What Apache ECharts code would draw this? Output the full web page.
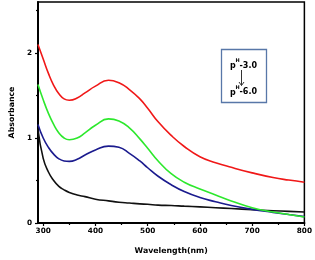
<!DOCTYPE html>
<html><head><meta charset="utf-8">
<script src="https://cdn.jsdelivr.net/npm/echarts@6/dist/echarts.min.js"></script>
<style>html,body{margin:0;padding:0;background:#fff}#c{width:315px;height:260px}</style>
</head><body><div id="c"></div>
<script>
const wavelengths = [290,300,310,320,330,340,350,365,380,400,425,445,465,485,500,520,545,570,600,630,660,700,740,770,800];
const redPH30   = [2.10,1.93,1.76,1.62,1.52,1.46,1.445,1.47,1.53,1.61,1.68,1.65,1.57,1.46,1.35,1.19,1.03,0.90,0.78,0.71,0.655,0.59,0.535,0.505,0.48];
const greenVals = [1.63,1.45,1.29,1.16,1.06,1.00,0.98,1.00,1.06,1.15,1.225,1.20,1.12,0.99,0.88,0.73,0.58,0.48,0.40,0.33,0.26,0.18,0.13,0.10,0.07];
const blueVals  = [1.16,1.00,0.89,0.81,0.755,0.73,0.725,0.75,0.80,0.86,0.905,0.89,0.82,0.73,0.65,0.55,0.45,0.37,0.30,0.25,0.205,0.16,0.125,0.10,0.075];
const blackPH60 = [1.10,0.76,0.60,0.50,0.43,0.39,0.36,0.33,0.31,0.28,0.26,0.245,0.235,0.225,0.22,0.21,0.205,0.198,0.19,0.18,0.17,0.157,0.145,0.137,0.13];
const xTicks = [300,400,500,600,700,800];
const xMinorTicks = [350,450,550,650,750];
const yTicks = [0,1,2];
const yMinorTicks = [0.5,1.5,2.5];
const legendTop = 'p', legendSup = 'H', legendStart = '-3.0', legendEnd = '-6.0';

const pairs = v => wavelengths.map((w,i)=>[w,v[i]]);
const font = 'DejaVu Sans';
const chart = echarts.init(document.getElementById('c'), null, {renderer:'canvas'});
const mkSeries = (vals,color)=>({type:'line',data:pairs(vals),smooth:0.5,showSymbol:false,
  lineStyle:{color,width:1.6},itemStyle:{color},xAxisIndex:0,yAxisIndex:0,animation:false});
chart.setOption({
  animation:false,
  grid:{left:33,right:9,top:2,bottom:35.5,show:true,borderColor:'#000',borderWidth:1.5,backgroundColor:'transparent'},
  xAxis:[{type:'value',min:290,max:800,position:'bottom',
    axisLine:{show:true,onZero:false,lineStyle:{color:'#000',width:2}},
    axisTick:{show:true,customValues:xTicks,length:3,inside:false,lineStyle:{color:'#000',width:1.2}},
    axisLabel:{customValues:xTicks,color:'#000',fontFamily:font,fontWeight:'bold',fontSize:7.3,margin:5},
    splitLine:{show:false},
    name:'Wavelength(nm)',nameLocation:'middle',nameGap:24,
    nameTextStyle:{color:'#000',fontFamily:font,fontWeight:'bold',fontSize:7.8}},
   {type:'value',min:290,max:800,position:'bottom',
    axisLine:{show:false},axisLabel:{show:false},splitLine:{show:false},
    axisTick:{show:true,customValues:xMinorTicks,length:2,lineStyle:{color:'#000',width:1.2}}}],
  yAxis:[{type:'value',min:0,max:2.6,position:'left',
    axisLine:{show:true,onZero:false,lineStyle:{color:'#000',width:2}},
    axisTick:{show:true,customValues:yTicks,length:3,lineStyle:{color:'#000',width:1.2}},
    axisLabel:{customValues:yTicks,color:'#000',fontFamily:font,fontWeight:'bold',fontSize:7.3,margin:6},
    splitLine:{show:false},
    name:'Absorbance',nameLocation:'middle',nameGap:21,
    nameTextStyle:{color:'#000',fontFamily:font,fontWeight:'bold',fontSize:7.8}},
   {type:'value',min:0,max:2.6,position:'left',
    axisLine:{show:false},axisLabel:{show:false},splitLine:{show:false},
    axisTick:{show:true,customValues:yMinorTicks,length:2,lineStyle:{color:'#000',width:1.2}}}],
  series:[mkSeries(blackPH60,'#111111'),mkSeries(blueVals,'#1b1b8e'),mkSeries(greenVals,'#2de82d'),mkSeries(redPH30,'#f01818')],
  graphic:[
    {type:'rect',shape:{x:221.5,y:49.5,width:45,height:53},style:{fill:'#fff',stroke:'#5877a8',lineWidth:1.3}},
    {type:'text',x:230,y:66,style:{text:legendTop,font:'bold 8px "DejaVu Sans"',fill:'#000',verticalAlign:'middle'}},
    {type:'text',x:235.5,y:61,style:{text:legendSup,font:'bold 5px "DejaVu Sans"',fill:'#000',verticalAlign:'middle'}},
    {type:'text',x:239.5,y:65.5,style:{text:legendStart,font:'bold 8px "DejaVu Sans"',fill:'#000',verticalAlign:'middle'}},
    {type:'text',x:230,y:92.5,style:{text:legendTop,font:'bold 8px "DejaVu Sans"',fill:'#000',verticalAlign:'middle'}},
    {type:'text',x:235.5,y:87.5,style:{text:legendSup,font:'bold 5px "DejaVu Sans"',fill:'#000',verticalAlign:'middle'}},
    {type:'text',x:239.5,y:92,style:{text:legendEnd,font:'bold 8px "DejaVu Sans"',fill:'#000',verticalAlign:'middle'}},
    {type:'line',shape:{x1:241.5,y1:70,x2:241.5,y2:85.5},style:{stroke:'#333',lineWidth:1}},
    {type:'polyline',shape:{points:[[239,82],[241.5,85.5],[244,82]]},style:{stroke:'#333',lineWidth:1,fill:null}}
  ]
});
</script></body></html>
